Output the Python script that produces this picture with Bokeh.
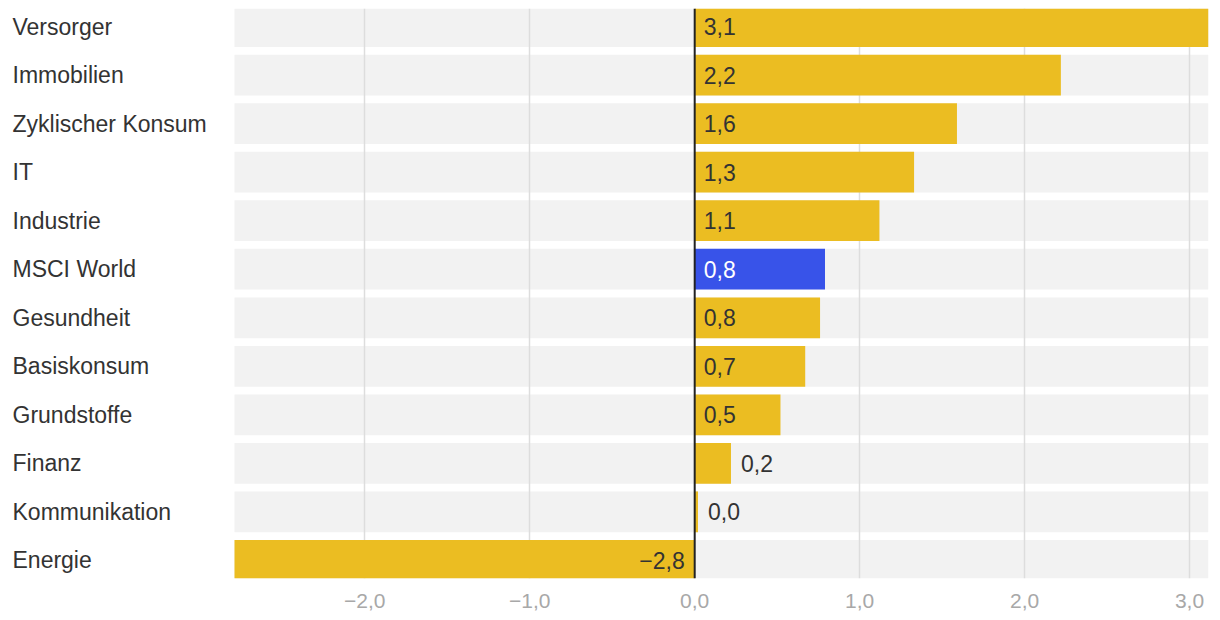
from bokeh.plotting import figure
from bokeh.models import ColumnDataSource, FactorRange, Range1d, Span, FixedTicker
from bokeh.core.properties import value, field
from bokeh.embed import file_html
from bokeh.resources import INLINE

categories = ["Versorger", "Immobilien", "Zyklischer Konsum", "IT", "Industrie",
              "MSCI World", "Gesundheit", "Basiskonsum", "Grundstoffe", "Finanz",
              "Kommunikation", "Energie"]
values = [3.12, 2.22, 1.59, 1.33, 1.12, 0.79, 0.76, 0.67, 0.52, 0.22, 0.02, -2.79]
highlight = "MSCI World"
tick_values = [-2, -1, 0, 1, 2, 3]
tick_labels = ["−2,0", "−1,0", "0,0", "1,0", "2,0", "3,0"]
x_min, x_max = -2.79, 3.115

YELLOW = "#ebbd22"
BLUE = "#3853e9"
BG = "#f2f2f2"
TEXT = "#333333"
FONT = "Liberation Sans"
FS = "23px"

# layout (pixels)
W, H = 1212, 618
LABEL_W = 234          # width of the category-label column inside the frame
BORDER_R, BORDER_T, BORDER_B = 4, 8, 40
frame_w = W - BORDER_R
px_per_unit = (frame_w - LABEL_W) / (x_max - x_min)
x_start = x_min - LABEL_W / px_per_unit


def fmt(v):
    return f"{v:.1f}".replace(".", ",").replace("-", "−")


colors = [BLUE if c == highlight else YELLOW for c in categories]
lab_x, lab_off, lab_align, lab_color = [], [], [], []
for c, v in zip(categories, values):
    if abs(v) >= 0.35:
        lab_x.append(0)
        lab_off.append(9 if v > 0 else -10)
        lab_align.append("left" if v > 0 else "right")
    else:
        lab_x.append(v)
        lab_off.append(10)
        lab_align.append("left")
    lab_color.append("#ffffff" if c == highlight else TEXT)

src = ColumnDataSource(dict(
    cat=categories, val=values, color=colors,
    lx=lab_x, loff=lab_off, lalign=lab_align, lcolor=lab_color,
    txt=[fmt(v) for v in values],
    bl=[x_min] * len(categories), br=[x_max] * len(categories),
    cx=[x_start] * len(categories),
))

p = figure(width=W, height=H, output_backend="svg", toolbar_location=None,
           y_range=FactorRange(factors=categories[::-1], range_padding=-0.125,
                               range_padding_units="absolute"),
           x_range=Range1d(x_start, x_max),
           min_border_left=0, min_border_right=BORDER_R,
           min_border_top=BORDER_T, min_border_bottom=BORDER_B)
p.outline_line_color = None
p.background_fill_color = "white"
p.yaxis.visible = False
p.ygrid.visible = False
p.xgrid.ticker = FixedTicker(ticks=[t for t in tick_values if t != 0])
p.xgrid.grid_line_color = "#dddddd"
p.xgrid.grid_line_width = 1.5

xa = p.xaxis[0]
xa.ticker = FixedTicker(ticks=tick_values)
xa.major_label_overrides = {t: l for t, l in zip(tick_values, tick_labels)}
xa.axis_line_color = None
xa.major_tick_line_color = None
xa.minor_tick_line_color = None
xa.major_tick_out = 0
xa.major_tick_in = 0
xa.minor_tick_out = 0
xa.major_label_standoff = 15
xa.major_label_text_font = FONT
xa.major_label_text_font_size = "21px"
xa.major_label_text_color = "#a8a8a8"

# background bands
p.hbar(y="cat", left="bl", right="br", height=0.84, source=src,
       fill_color=BG, line_color=None, level="image")
# bars
p.hbar(y="cat", left=0, right="val", height=0.84, source=src,
       fill_color="color", line_color=None)

p.add_layout(Span(location=0, dimension="height", line_color="#222222", line_width=2))

# value labels
p.text(x="lx", y="cat", text="txt", source=src, x_offset="loff",
       text_align=field("lalign"), text_baseline="middle", text_color="lcolor",
       text_font=value(FONT), text_font_size=FS)

# category labels
p.text(x="cx", y="cat", text="cat", source=src, x_offset=12,
       text_align="left", text_baseline="middle", text_color=TEXT,
       text_font=value(FONT), text_font_size=FS)

open("out.html", "w").write(file_html(p, INLINE))
